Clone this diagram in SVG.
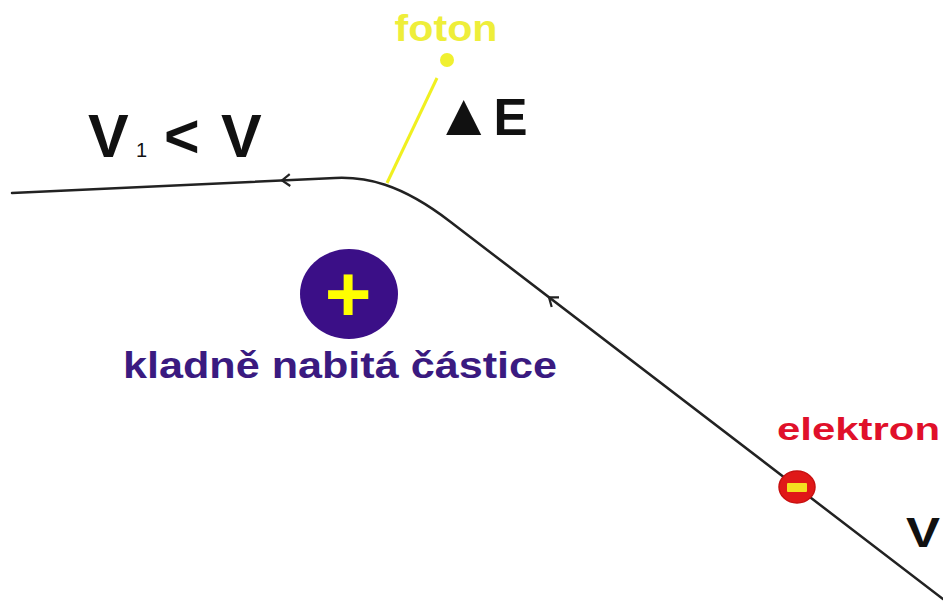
<svg xmlns="http://www.w3.org/2000/svg" width="943" height="603" viewBox="0 0 943 603">
<style>
.t{font-family:"Liberation Sans",Arial,sans-serif;font-weight:bold}
.path{fill:none;stroke:#222;stroke-width:2.5;stroke-linecap:round}
.chev{fill:none;stroke:#222;stroke-width:2.2;stroke-linejoin:miter}
</style>
<rect width="943" height="603" fill="#fff"/>
<g id="connectors">
<path class="path" d="M12,193 L335,178 C365,176.6 400,183 450,221.5 L943,599"/>
<path class="chev" d="M8,-6 L0,0 L8,6" transform="translate(282,180.4) rotate(-2.6)"/>
<path class="chev" d="M8,-6 L0,0 L8,6" transform="translate(549,297.3) rotate(37.5)"/>
<line x1="387" y1="183" x2="437" y2="78" stroke="#f0f020" stroke-width="3"/>
</g>
<g id="foton">
<circle cx="447" cy="60" r="7" fill="#f0f030"/>
<text class="t" x="446" y="41" font-size="37" fill="#eeee3a" text-anchor="middle" textLength="103" lengthAdjust="spacingAndGlyphs">foton</text>
</g>
<g id="deltaE">
<text class="t" x="434" y="135" fill="#111"><tspan font-size="60">▲</tspan><tspan font-size="51">E</tspan></text>
</g>
<g id="v1v">
<text class="t" x="88" y="157" font-size="61" fill="#111">V</text>
<text x="136" y="157" font-size="20" fill="#111" font-family="Liberation Sans, Arial, sans-serif">1</text>
<text class="t" x="164" y="157" font-size="61" fill="#111">&lt;</text>
<text class="t" x="221" y="157" font-size="61" fill="#111">V</text>
</g>
<g id="castice">
<ellipse cx="349" cy="294" rx="49" ry="45" fill="#3b0f87"/>
<text class="t" x="348" y="321" font-size="80" fill="#ffff00" text-anchor="middle">+</text>
<text class="t" x="123" y="378" font-size="36" fill="#3a1a80" textLength="434" lengthAdjust="spacingAndGlyphs">kladně nabitá částice</text>
</g>
<g id="elektron">
<ellipse cx="797" cy="487" rx="18" ry="16" fill="#e01818" stroke="#c81010" stroke-width="1.5"/>
<rect x="787" y="483" width="20" height="9" rx="1" fill="#f4e020"/>
<text class="t" x="777" y="440" font-size="31" fill="#e0102a" textLength="163" lengthAdjust="spacingAndGlyphs">elektron</text>
</g>
<g id="v">
<text class="t" x="906" y="547" font-size="42" fill="#111" textLength="34" lengthAdjust="spacingAndGlyphs">V</text>
</g>
</svg>
